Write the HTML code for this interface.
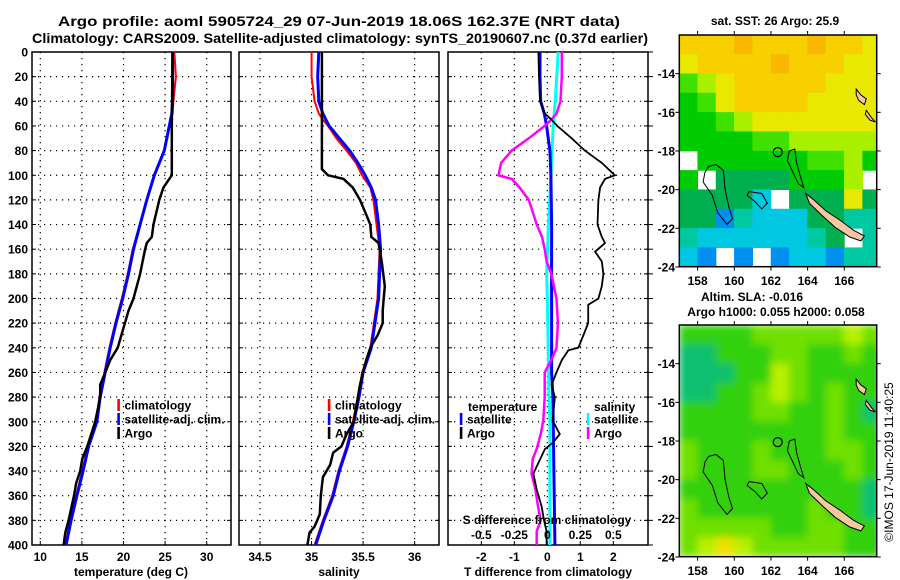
<!DOCTYPE html>
<html><head><meta charset="utf-8">
<style>
html,body{margin:0;padding:0;background:#fff;}
svg{display:block;font-family:"Liberation Sans",Arial,sans-serif;font-weight:bold;}
</style></head>
<body>
<svg id="chart" width="900" height="580" viewBox="0 0 900 580" xmlns="http://www.w3.org/2000/svg">
<defs>
<filter id="blur" x="-0.1" y="-0.1" width="1.2" height="1.2"><feGaussianBlur stdDeviation="4"/></filter>
<clipPath id="clipM1"><rect x="679.3" y="35" width="197.4" height="231.7"/></clipPath>
<clipPath id="clipM2"><rect x="679.3" y="325" width="197.4" height="231.7"/></clipPath>
</defs>
<g id="root"></g>
</svg>
<script>
// ---------- data ----------
const climTDepth = [0,20,40,50,60,70,80,90,100,120,140,160,180,200,220,240,260,280,300,320,340,360,380,400];
const climT = [26.1,26.3,26.0,25.9,25.5,25.2,24.9,24.3,23.7,22.8,22.0,21.1,20.5,19.8,19.0,18.3,17.7,17.1,16.7,15.7,15.05,14.3,13.6,13.0];
const satT = [25.9,25.9,25.9,25.8,25.5,25.2,24.9,24.3,23.7,22.8,22.0,21.2,20.6,19.9,19.1,18.4,17.8,17.2,16.8,15.8,15.15,14.4,13.7,13.1];
const argoTDepth = [0,60,100,110,120,140,150,155,160,180,200,210,240,250,270,280,300,320,330,340,350,360,380,390,400];
const argoT = [25.9,25.8,25.8,24.8,24.3,23.6,23.4,22.8,22.6,22.0,21.2,20.6,19.3,18.4,17.2,17.2,16.6,15.65,15.05,14.8,14.3,14.05,13.4,13.0,12.8];

const climSDepth = [0,20,40,50,55,60,70,80,90,100,110,120,140,160,200,240,260,280,300,320,340,360,380,400];
const climS = [35.0,35.0,35.03,35.07,35.11,35.16,35.24,35.34,35.43,35.49,35.57,35.60,35.63,35.66,35.64,35.57,35.49,35.45,35.40,35.34,35.26,35.20,35.11,35.03];
const satS = [35.07,35.06,35.07,35.11,35.14,35.17,35.27,35.37,35.45,35.52,35.58,35.62,35.65,35.67,35.65,35.58,35.50,35.46,35.41,35.35,35.27,35.21,35.12,35.04];
const argoSDepth = [0,95,100,103,110,120,130,140,150,155,170,190,200,210,220,230,240,250,260,270,280,300,310,320,325,335,345,360,375,385,390,400];
const argoS = [35.10,35.10,35.16,35.31,35.40,35.47,35.52,35.57,35.58,35.65,35.68,35.71,35.70,35.69,35.69,35.64,35.57,35.53,35.50,35.47,35.45,35.41,35.34,35.29,35.21,35.18,35.11,35.09,35.08,35.03,34.98,34.96];

const dTDepth = [0,20,40,50,55,60,70,80,90,100,103,110,120,140,150,155,162,170,180,190,200,205,220,230,240,242,250,260,270,280,299,310,317,322,342,355,369,380,389,400];
const dT = [-0.27,-0.25,-0.22,-0.07,0.13,0.3,0.74,1.14,1.65,2.05,1.75,1.6,1.55,1.52,1.65,1.75,1.45,1.65,1.7,1.65,1.55,1.24,1.24,1.09,0.94,0.64,0.44,0.28,0.13,0.23,0.16,0.38,0.17,-0.07,-0.42,-0.32,-0.17,-0.1,-0.02,-0.02];
const dSDepth = [0,20,40,50,55,60,70,80,90,100,103,110,120,130,140,150,160,170,180,200,220,240,250,260,280,299,310,322,330,342,355,369,380,389,400];
const dS = [0.11,0.11,0.10,0.07,0.03,-0.02,-0.14,-0.27,-0.35,-0.37,-0.27,-0.21,-0.14,-0.11,-0.08,-0.04,-0.02,-0.005,0.03,0.07,0.08,0.07,0.03,-0.02,-0.02,-0.03,-0.05,-0.08,-0.11,-0.12,-0.09,-0.07,-0.05,-0.08,-0.08];
const satdTDepth = [0,20,40,50,60,80,100,140,260,280,300,400];
const satdT = [-0.22,-0.22,-0.2,-0.09,-0.02,0.08,0.11,0.13,0.13,0.17,0.18,0.23];
const satdSDepth = [0,40,60,100,140,180,200,280,300,400];
const satdS = [0.083,0.06,0.045,0.028,0.008,-0.005,0,0.013,0.02,0.02];

const depthTicks = [0,20,40,60,80,100,120,140,160,180,200,220,240,260,280,300,320,340,360,380,400];
const tempTicks = [10,15,20,25,30];
const salTicks = [34.5,35,35.5,36];
const salTickLabels = ["34.5","35","35.5","36"];
const dTTicks = [-2,-1,0,1,2];
const dSTicks = [-0.5,-0.25,0,0.25,0.5];
const dSTickLabels = ["-0.5","-0.25","0","0.25","0.5"];
const lonTicks = [158,160,162,164,166];
const latTicks = [-14,-16,-18,-20,-22,-24];

// SST grid, rows lat -12..-24 (1 deg), cols lon 157..168
const sstGrid = [
[8,8,8,9,8,8,8,9,8,8,7],
[7,8,8,8,8,9,8,8,8,7,7],
[5,6,7,8,8,8,8,8,7,7,7],
[4,5,7,8,8,8,8,7,7,7,7],
[4,4,5,6,7,7,7,7,7,7,7],
[4,4,4,4,5,5,6,6,6,6,6],
[-1,4,4,4,4,4,4,5,5,6,4],
[4,-1,3,3,3,3,4,4,4,6,-1],
[3,3,3,3,1,-1,3,3,3,7,3],
[3,3,0,2,1,1,1,3,3,2,2],
[2,1,1,1,1,1,1,2,3,-1,2],
[1,0,-1,0,-1,0,1,1,0,2,2]];
const sstColors = ["#0090f0","#00c8e0","#00c8a0","#00b050","#00cc00","#40e000","#a8f000","#e8e800","#f8d000","#f8b800"];
const slaGrid = [
[2,2,2,2,3,3,3,3,3,4,3],
[1,1,2,2,2,3,3,2,2,3,2],
[1,1,1,2,2,4,3,2,2,2,2],
[1,1,2,2,3,4,3,2,3,2,2],
[2,2,2,2,3,3,2,2,3,2,1],
[2,2,2,2,2,2,2,2,3,2,2],
[3,2,2,2,3,2,2,2,3,3,2],
[3,2,2,2,3,3,2,2,2,3,2],
[2,2,2,2,2,2,2,2,2,2,1],
[3,2,2,2,2,2,2,3,2,2,1],
[3,3,3,3,3,2,2,3,3,2,2],
[3,4,5,4,3,3,3,3,3,2,2]];
const slaColors = ["#00b070","#10c070","#30d010","#70e000","#b8f000","#f0e000"];
const newCal = [[163.9,-20.2],[164.3,-20.5],[165,-21.1],[165.8,-21.6],[166.5,-22.1],[167.1,-22.4],[166.9,-22.65],[166.3,-22.45],[165.5,-21.95],[164.8,-21.35],[164.1,-20.7]];
const vanuatu1 = [[166.65,-14.8],[166.9,-15.1],[167.2,-15.3],[167.1,-15.6],[166.8,-15.4],[166.65,-15.1]];
const vanuatu2 = [[167.2,-15.9],[167.5,-16.3],[167.7,-16.5],[167.4,-16.4],[167.15,-16.1]];
const reefLeft = [[158.6,-18.8],[159.0,-18.7],[159.4,-19.0],[159.5,-20.0],[159.7,-20.9],[159.9,-21.5],[159.6,-21.8],[159.1,-21.2],[158.8,-20.3],[158.3,-19.6],[158.4,-19.1]];
const reefMid = [[163.0,-18.0],[163.3,-17.9],[163.4,-18.6],[163.6,-19.3],[163.8,-19.9],[163.5,-19.7],[163.2,-19.1],[162.9,-18.5]];
const reefChesterfield = [[160.8,-20.1],[161.5,-20.2],[161.8,-20.7],[161.5,-21.0],[161.1,-20.6],[160.7,-20.3]];
const argoPos = [162.37,-18.06];

// ---------- helpers ----------
const NS="http://www.w3.org/2000/svg";
const root=document.getElementById('root');
function el(tag,attrs,parent){const e=document.createElementNS(NS,tag);for(const k in attrs)e.setAttribute(k,attrs[k]);(parent||root).appendChild(e);return e;}
function txt(s,x,y,size,anchor,parent,extra){const t=el('text',Object.assign({x:x,y:y,'font-size':size,'text-anchor':anchor||'start',fill:'#000'},extra||{}),parent);t.textContent=s;return t;}
const yD = d => 52 + d*1.2325;
const PB = 545;
const xTemp = t => 40.3 + (t-10)*8.32;
const xSal = s => 260 + (s-34.5)*103.1;
const xDT = d => 547.3 + d*33;
const xDS = d => 547.3 + d*132;

function panel(name,x0,x1,xticks,xfn,labels,ylabels){
  const g=el('g',{});
  
  
  depthTicks.forEach(d=>{
    if(d>0&&d<400){const l=el('line',{x1:x0,x2:x1,y1:yD(d),y2:yD(d),stroke:'#000','stroke-width':1.2,'stroke-dasharray':'1.2,4.8'},g);
    }
    el('line',{x1:x0,x2:x0+4,y1:yD(d),y2:yD(d),stroke:'#000','stroke-width':1},g);
    el('line',{x1:x1-4,x2:x1,y1:yD(d),y2:yD(d),stroke:'#000','stroke-width':1},g);
    if(ylabels){const t=txt(String(d),28,yD(d)+4.5,12,'end',g);}
  });
  xticks.forEach((v,i)=>{
    const x=xfn(v);
    const l=el('line',{x1:x,x2:x,y1:52,y2:PB,stroke:'#000','stroke-width':1.2,'stroke-dasharray':'1.2,4.8'},g);
    
    el('line',{x1:x,x2:x,y1:PB-4,y2:PB,stroke:'#000','stroke-width':1},g);
    if(labels){const t=txt(labels[i],x,561,12,'middle',g);}
  });
  const r=el('rect',{x:x0,y:52,width:x1-x0,height:PB-52,fill:'none',stroke:'#000','stroke-width':1.5},g);
  
  return g;
}
function line(depths,vals,xfn,color,w,name){
  const pts=depths.map((d,i)=>xfn(vals[i]).toFixed(1)+','+yD(d).toFixed(1)).join(' ');
  const p=el('polyline',{points:pts,fill:'none',stroke:color,'stroke-width':w,'stroke-linejoin':'miter'});
  
  
  return p;
}
function legendEntry(x,y,color,label,name){
  const g=el('g',{});
  
  
  el('rect',{x:x-1.2,y:y-9,width:2.6,height:12,fill:color},g);
  txt(label,x+6,y+1.5,12,'start',g);
}

// ---------- titles ----------
let t=txt('Argo profile: aoml 5905724_29 07-Jun-2019 18.06S 162.37E (NRT data)',339,26,14,'middle',null,{textLength:562,lengthAdjust:'spacingAndGlyphs'});

t=txt('Climatology: CARS2009. Satellite-adjusted climatology: synTS_20190607.nc (0.37d earlier)',340,43,14,'middle',null,{textLength:616,lengthAdjust:'spacingAndGlyphs'});


// ---------- panel 1 ----------
panel('temperature-panel',32,231,tempTicks,xTemp,tempTicks.map(String),true);
line(climTDepth,climT,xTemp,'#ff0000',2,'climatology-temperature-line');
line(climTDepth,satT,xTemp,'#0000ff',3,'satellite-temperature-line');
line(argoTDepth,argoT,xTemp,'#000000',2.5,'argo-temperature-line');
legendEntry(118.5,408,'#ff0000','climatology','legend-climatology');
legendEntry(118.5,422,'#0000ff','satellite-adj. clim.','legend-satellite');
legendEntry(118.5,436,'#000000','Argo','legend-argo');
t=txt('temperature (deg C)',131,576,12,'middle');

// ---------- panel 2 ----------
panel('salinity-panel',239,439,salTicks,xSal,salTickLabels,false);
line(climSDepth,climS,xSal,'#ff0000',2,'climatology-salinity-line');
line(climSDepth,satS,xSal,'#0000ff',3,'satellite-salinity-line');
line(argoSDepth,argoS,xSal,'#000000',2.5,'argo-salinity-line');
legendEntry(329,408,'#ff0000','climatology','legend-climatology-s');
legendEntry(329,422,'#0000ff','satellite-adj. clim.','legend-satellite-s');
legendEntry(329,436,'#000000','Argo','legend-argo-s');
t=txt('salinity',339,576,12,'middle');

// ---------- panel 3 ----------
panel('difference-panel',448,648,dTTicks,xDT,dTTicks.map(String),false);
depthTicks.forEach(d=>{el('line',{x1:648,x2:653,y1:yD(d),y2:yD(d),stroke:'#000','stroke-width':1});});
line(satdSDepth,satdS,xDS,'#00ffff',3,'satellite-salinity-diff-line');
line(satdTDepth,satdT,xDT,'#0000ff',3,'satellite-temperature-diff-line');
line(dSDepth,dS,xDS,'#ff00ff',2.5,'argo-salinity-diff-line');
line(dTDepth,dT,xDT,'#000000',1.8,'argo-temperature-diff-line');
t=txt('temperature',468,411,12,'start');
legendEntry(461,422,'#0000ff','satellite','legend-t-satellite');
legendEntry(461,436,'#000000','Argo','legend-t-argo');
t=txt('salinity',594,411,12,'start');
legendEntry(588,422,'#00ffff','satellite','legend-s-satellite');
legendEntry(588,436,'#ff00ff','Argo','legend-s-argo');
t=txt('S difference from climatology',547,524,12,'middle');
dSTicks.forEach((v,i)=>{
  const tt=txt(dSTickLabels[i],xDS(v),539,12,'middle');
  
  
});
t=txt('T difference from climatology',548,576,12,'middle');

// ---------- maps ----------
const MX0=679.3, MX1=876.7, LON0=157, PXLON=18.33, PXLAT=19.33;
const lonX = lon => MX0 + (lon-LON0)*PXLON;
function drawMap(name,top,grid,colors,blur,clipId,titles){
  const latY = lat => top + (-12-lat)*PXLAT;
  const g=el('g',{});
  
  
  const cells=el('g',{'clip-path':'url(#'+clipId+')'},g);
  const inner=el('g',blur?{filter:'url(#blur)'}:{},cells);
  grid.forEach((row,r)=>row.forEach((v,c)=>{
    if(v<0) return;
    const rc=el('rect',{x:lonX(LON0+c)-0.2,y:latY(-12-r)-0.2,width:PXLON+0.6,height:PXLAT+0.6,fill:colors[v]},inner);
    
    
  }));
  const poly=(pts,fill,stroke,sw,nm)=>{const p=el('polygon',{points:pts.map(p=>lonX(p[0]).toFixed(1)+','+latY(p[1]).toFixed(1)).join(' '),fill:fill,stroke:stroke,'stroke-width':sw},cells);};
  poly(reefLeft,'none','#000',1,'reef-outline');
  poly(reefMid,'none','#000',1,'reef-outline');
  poly(reefChesterfield,'none','#000',1,'reef-outline');
  poly(newCal,'#f8c8a0','#000',1,'new-caledonia-land');
  poly(vanuatu1,'#f8c8a0','#000',1,'vanuatu-land');
  poly(vanuatu2,'#f8c8a0','#000',1,'vanuatu-land');
  const c=el('circle',{cx:lonX(argoPos[0]),cy:latY(argoPos[1]),r:4.5,fill:'none',stroke:'#000','stroke-width':1.2},g);
  
  el('rect',{x:MX0,y:top,width:MX1-MX0,height:231.7,fill:'none',stroke:'#000','stroke-width':1.5},g);
  lonTicks.forEach(v=>{
    el('line',{x1:lonX(v),x2:lonX(v),y1:top-4,y2:top,stroke:'#000'},g);
    el('line',{x1:lonX(v),x2:lonX(v),y1:top+231.7,y2:top+235.7,stroke:'#000'},g);
    const tl=txt(String(v),lonX(v),top+250,12,'middle',g);
    
  });
  latTicks.forEach(v=>{
    el('line',{x1:MX0-4,x2:MX0,y1:latY(v),y2:latY(v),stroke:'#000'},g);
    el('line',{x1:MX1,x2:MX1+4,y1:latY(v),y2:latY(v),stroke:'#000'},g);
    const tl=txt(String(v),675,latY(v)+4.5,12,'end',g);
    
  });
  titles.forEach(tt=>{const x=txt(tt[0],tt[1],tt[2],12,'middle',g);});
}
drawMap('sst-map',35,sstGrid,sstColors,false,'clipM1',[['sat. SST: 26 Argo: 25.9',775,25]]);
drawMap('sla-map',325,slaGrid,slaColors,true,'clipM2',[['Altim. SLA: -0.016',752,301],['Argo h1000: 0.055 h2000: 0.058',776,316]]);

t=txt('©IMOS 17-Jun-2019 11:40:25',0,0,12,'middle',null,{transform:'translate(893,462) rotate(-90)','font-weight':'normal'});

</script>
</body></html>
